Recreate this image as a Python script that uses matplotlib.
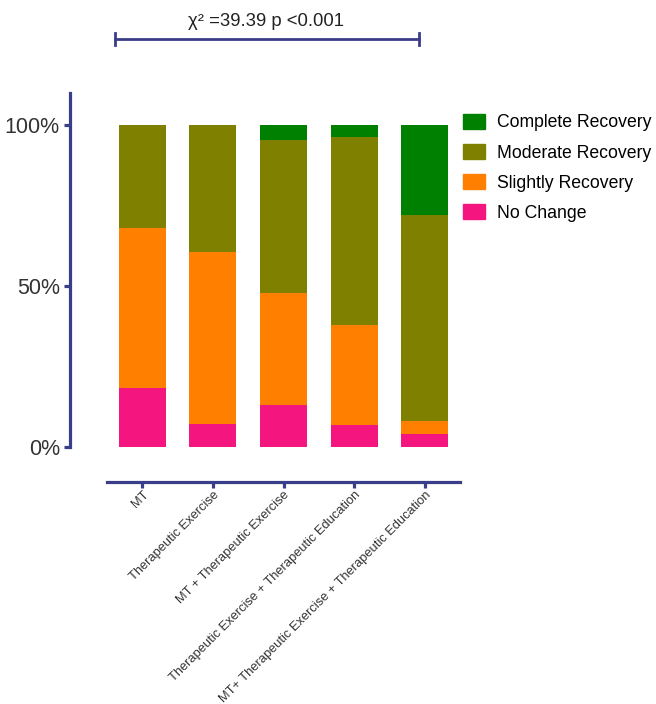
import matplotlib
matplotlib.use("Agg")
import matplotlib.pyplot as plt
import numpy as np
from matplotlib.patches import Patch
from matplotlib.lines import Line2D

plt.rcParams['font.family'] = ['Liberation Sans', 'DejaVu Sans']

groups = ["MT", "Therapeutic Exercise", "MT + Therapeutic Exercise",
          "Therapeutic Exercise + Therapeutic Education",
          "MT+ Therapeutic Exercise + Therapeutic Education"]
no_change = [18.2, 7.2, 13.0, 6.9, 4.1]
slightly = [49.9, 53.4, 34.9, 31.0, 4.1]
moderate = [31.9, 39.4, 47.6, 58.5, 63.8]
complete = [0.0, 0.0, 4.5, 3.6, 28.0]
series_names = ["No Change", "Slightly Recovery", "Moderate Recovery", "Complete Recovery"]
colors = ["#F5157F", "#FF8000", "#808000", "#008000"]
yticks = [0, 50, 100]
ytick_labels = ["0%", "50%", "100%"]
stat_text = "\u03c7\u00b2 =39.39 p <0.001"

navy = "#3A3D88"
W, H = 656, 704
fig = plt.figure(figsize=(W/100, H/100), dpi=100)
ax = fig.add_axes([107/W, 1-447/H, 353/W, (447-93)/H])

for s in ['top', 'right']:
    ax.spines[s].set_visible(False)
ax.spines['left'].set_position(('outward', 27))
ax.spines['bottom'].set_position(('outward', 25))

x = np.arange(len(groups))
bottom = np.zeros(len(groups))
for vals, c, name in zip([no_change, slightly, moderate, complete], colors, series_names):
    ax.bar(x, vals, bottom=bottom, width=0.667, color=c, edgecolor='none', label=name)
    bottom += np.array(vals)

ax.set_xlim(-0.5, 4.5)
ax.set_ylim(0, 110)
ax.spines['left'].set_bounds(0, 110)
for s in ['left', 'bottom']:
    ax.spines[s].set_color(navy)
    ax.spines[s].set_linewidth(2.3)
ax.tick_params(axis='both', colors=navy, width=2.3, length=4)
ax.tick_params(axis='y', labelcolor="#333333", pad=3)
ax.tick_params(axis='x', labelcolor="#333333", pad=1.0)

ax.set_yticks(yticks)
ax.set_yticklabels(ytick_labels, fontsize=15.5, color="#333333")
ax.set_xticks(x)
ax.set_xticklabels(groups, rotation=45, ha='right', va='top', rotation_mode='anchor',
                   fontsize=9.3, color="#333333")

# bracket with statistic
y_br = 1 - 39/H
fig.add_artist(Line2D([115/W, 419/W], [y_br, y_br], color=navy, lw=2.0, transform=fig.transFigure))
for xx in [115/W, 419/W]:
    fig.add_artist(Line2D([xx, xx], [1-33/H, 1-45/H], color=navy, lw=2.0, transform=fig.transFigure))
fig.text(266/W, 1-21/H, stat_text, ha='center', va='center', fontsize=13.3, color="#222222")

handles = [Patch(color=c, label=n) for c, n in zip(colors, series_names)][::-1]
fig.legend(handles=handles, loc='upper left', bbox_to_anchor=(463/W, 1-114/H),
           frameon=False, fontsize=12.7, handlelength=1.25, handleheight=0.9,
           handletextpad=0.7, labelspacing=0.72, borderpad=0, borderaxespad=0)

fig.savefig("out.png", dpi=100)
